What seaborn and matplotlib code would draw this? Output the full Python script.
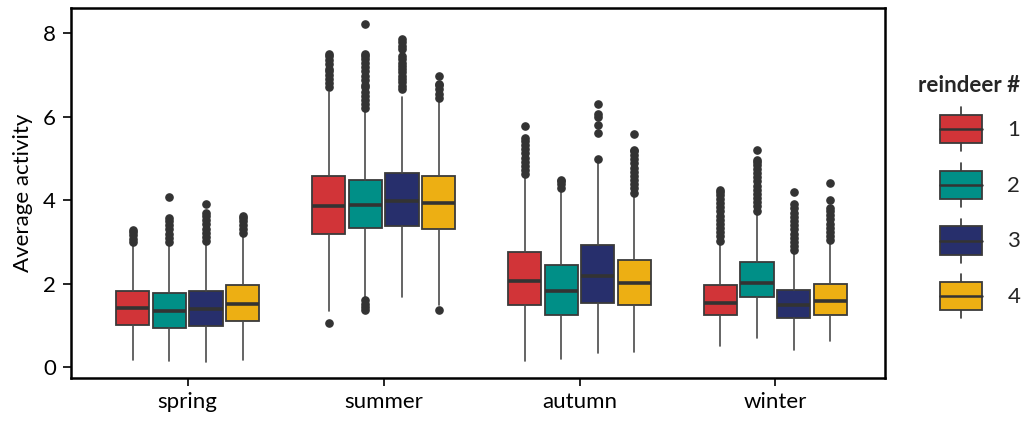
import matplotlib
matplotlib.use("Agg")
import matplotlib.pyplot as plt
import seaborn as sns
from matplotlib.legend_handler import HandlerBase
from matplotlib.patches import Rectangle, Patch
from matplotlib.lines import Line2D

seasons = ["spring", "summer", "autumn", "winter"]
reindeer = ["1", "2", "3", "4"]
colors = ["#D13438", "#008F87", "#272F6C", "#EDAF13"]

# Box statistics: one row per season, one column per reindeer
whisker_low = [
    [0.17, 0.14, 0.13, 0.17],
    [1.35, 1.65, 1.68, 1.50],
    [0.15, 0.20, 0.33, 0.37],
    [0.50, 0.69, 0.41, 0.63],
]
q1 = [
    [1.00, 0.95, 0.98, 1.10],
    [3.18, 3.34, 3.38, 3.30],
    [1.49, 1.24, 1.53, 1.49],
    [1.26, 1.67, 1.18, 1.24],
]
median = [
    [1.42, 1.34, 1.40, 1.52],
    [3.87, 3.89, 3.97, 3.92],
    [2.06, 1.82, 2.19, 2.02],
    [1.53, 2.02, 1.49, 1.59],
]
q3 = [
    [1.82, 1.78, 1.82, 1.97],
    [4.57, 4.48, 4.65, 4.57],
    [2.76, 2.44, 2.92, 2.56],
    [1.97, 2.51, 1.84, 1.98],
]
whisker_high = [
    [2.95, 2.96, 2.98, 3.18],
    [6.60, 6.16, 6.47, 6.41],
    [4.60, 4.26, 4.90, 4.14],
    [2.99, 3.71, 2.76, 3.00],
]

# Outlying observations per reindeer
spring_fliers = [
    [3.00, 3.08, 3.16, 3.24, 3.28],
    [3.00, 3.10, 3.20, 3.30, 3.40, 3.50, 3.58, 4.08],
    [3.02, 3.12, 3.22, 3.32, 3.42, 3.52, 3.62, 3.70, 3.90],
    [3.22, 3.30, 3.40, 3.50, 3.58, 3.62],
]
summer_fliers = [
    [1.07, 6.71, 6.80, 6.90, 7.00, 7.10, 7.15, 7.26, 7.36, 7.44, 7.51],
    [1.37, 1.45, 1.52, 1.60, 6.20, 6.30, 6.40, 6.50, 6.60, 6.70, 6.75,
     6.88, 6.98, 7.08, 7.18, 7.28, 7.38, 7.46, 7.51, 8.22],
    [6.66, 6.74, 6.82, 6.90, 6.98, 7.06, 7.14, 7.22, 7.28, 7.38, 7.46,
     7.62, 7.70, 7.78, 7.86],
    [1.38, 6.45, 6.55, 6.65, 6.75, 6.79, 6.97],
]
autumn_fliers = [
    [4.62, 4.72, 4.82, 4.92, 5.02, 5.12, 5.22, 5.32, 5.42, 5.48, 5.77],
    [4.30, 4.38, 4.45, 4.48],
    [4.99, 5.60, 5.80, 5.98, 6.06, 6.30],
    [4.18, 4.28, 4.38, 4.48, 4.58, 4.68, 4.78, 4.88, 4.98, 5.08, 5.18, 5.20, 5.58],
]
winter_fliers = [
    [3.03, 3.13, 3.23, 3.33, 3.43, 3.53, 3.63, 3.73, 3.83, 3.93, 4.03, 4.13,
     4.20, 4.25],
    [3.75, 3.85, 3.95, 4.05, 4.15, 4.25, 4.35, 4.45, 4.55, 4.65, 4.75, 4.85,
     4.92, 4.97, 5.21],
    [2.80, 2.90, 3.00, 3.10, 3.20, 3.30, 3.40, 3.50, 3.60, 3.70, 3.80, 3.90, 4.20],
    [3.04, 3.14, 3.24, 3.34, 3.44, 3.54, 3.64, 3.74, 3.80, 4.00, 4.42],
]
fliers = [spring_fliers, summer_fliers, autumn_fliers, winter_fliers]

sns.set_theme(style="ticks")
plt.rcParams["font.family"] = ["Lato", "DejaVu Sans"]

FS = 16

fig = plt.figure(figsize=(10.34, 4.21), dpi=100)
ax = fig.add_axes([0.0687, 0.102, 0.787, 0.880])

palette = sns.color_palette(colors)
step = 0.187
box_w = 0.17
edge = "#3a3a3a"

for i, season in enumerate(seasons):
    for j, r in enumerate(reindeer):
        stats = [{
            "whislo": whisker_low[i][j],
            "q1": q1[i][j],
            "med": median[i][j],
            "q3": q3[i][j],
            "whishi": whisker_high[i][j],
            "fliers": fliers[i][j],
            "label": f"{season}-{r}",
        }]
        pos = i + (j - 1.5) * step
        ax.bxp(
            stats, positions=[pos], widths=[box_w], patch_artist=True,
            showcaps=False, manage_ticks=False,
            boxprops=dict(facecolor=palette[j], edgecolor=edge, linewidth=1.3),
            medianprops=dict(color="#333333", linewidth=2.6),
            whiskerprops=dict(color="#4a4a4a", linewidth=1.2),
            flierprops=dict(marker="o", markersize=5.2, markerfacecolor="#333333",
                            markeredgecolor="#333333", linestyle="none"),
        )

ax.set_xlim(-0.595, 3.558)
ax.set_ylim(-0.26, 8.61)
ax.set_xticks(range(len(seasons)))
ax.set_xticklabels(seasons, fontsize=FS)
ax.set_yticks([0, 2, 4, 6, 8])
ax.tick_params(axis="y", labelsize=FS, length=6, width=1.2, colors="black", pad=5)
ax.tick_params(axis="x", length=6, width=1.2, colors="black", pad=4)
ax.set_ylabel("Average activity", fontsize=FS, color="black", labelpad=7)
for s in ax.spines.values():
    s.set_linewidth(1.8)
    s.set_color("black")


class BoxHandler(HandlerBase):
    def create_artists(self, legend, orig_handle, xdescent, ydescent,
                       width, height, fontsize, trans):
        x0 = -xdescent
        y0 = -ydescent
        bh = height * 0.64
        by = y0 + (height - bh) / 2
        cx = x0 + width / 2
        w_lo = Line2D([cx, cx], [y0, by], color="#333333", lw=1.2, transform=trans)
        w_hi = Line2D([cx, cx], [by + bh, y0 + height], color="#333333", lw=1.2,
                      transform=trans)
        box = Rectangle((x0, by), width, bh, facecolor=orig_handle.get_facecolor(),
                        edgecolor=edge, lw=1.3, transform=trans)
        med = Line2D([x0, x0 + width], [by + bh / 2, by + bh / 2], color="#333333",
                     lw=1.8, transform=trans)
        return [w_lo, w_hi, box, med]


handles = [Patch(facecolor=c) for c in palette]
leg = fig.legend(
    handles, reindeer, title="reindeer #", loc="upper left",
    bbox_to_anchor=(0.888, 0.823), frameon=False, fontsize=FS,
    handler_map={Patch: BoxHandler()}, handlelength=1.89, handleheight=2.67,
    labelspacing=0.525, handletextpad=1.13, borderaxespad=0, borderpad=0,
    alignment="right",
)
leg.get_title().set_fontweight("bold")
leg.get_title().set_fontsize(FS)

fig.savefig("out.png", dpi=100)
